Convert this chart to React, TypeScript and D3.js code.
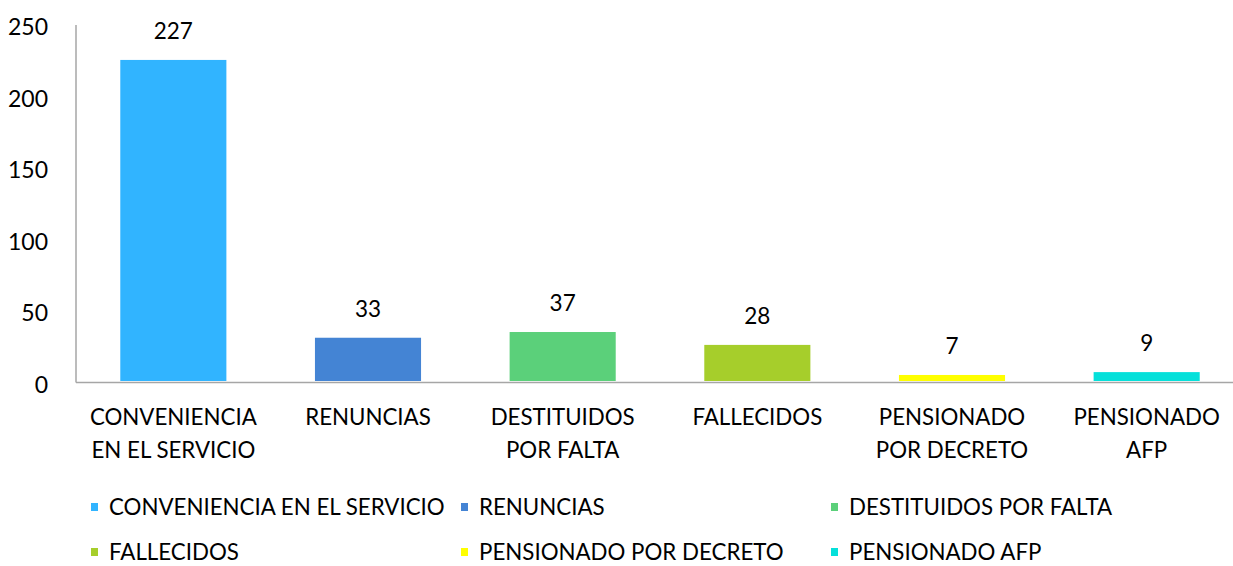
import React from "react";
import * as d3 from "d3";

const categories = [
  "CONVENIENCIA EN EL SERVICIO",
  "RENUNCIAS",
  "DESTITUIDOS POR FALTA",
  "FALLECIDOS",
  "PENSIONADO POR DECRETO",
  "PENSIONADO AFP",
];
const axisLines = [
  ["CONVENIENCIA", "EN EL SERVICIO"],
  ["RENUNCIAS"],
  ["DESTITUIDOS", "POR FALTA"],
  ["FALLECIDOS"],
  ["PENSIONADO", "POR DECRETO"],
  ["PENSIONADO", "AFP"],
];
const values = [227, 33, 37, 28, 7, 9];
const colors = ["#31B4FF", "#4484D4", "#5BD07A", "#A6CE2B", "#FFFF00", "#05E0DA"];
const yTicks = [0, 50, 100, 150, 200, 250];

const W = 1233;
const H = 566;
const FONT = "Lato, 'Liberation Sans', sans-serif";

export default function App() {
  const y = d3.scaleLinear().domain([0, 250]).range([385, 27]);
  const x = d3.scaleBand<string>().domain(categories).range([76, 1244]).padding(0);
  const bw = x.bandwidth() * 0.545;
  const baseY = 381;
  const axisY = 382.5;

  const legendCols = [91, 461, 831];
  const legendRows = [507, 552];

  return (
    <svg width={W} height={H} style={{ position: "absolute", left: 0, top: 0, background: "#fff" }} fontFamily={FONT}>
      {categories.map((c, i) => {
        const cx = (x(c) as number) + x.bandwidth() / 2;
        const top = y(values[i]);
        return (
          <g key={c}>
            <rect x={cx - bw / 2} y={top} width={bw} height={Math.max(0, baseY - top)} fill={colors[i]} />
            <text x={cx} y={top - 21} textAnchor="middle" fontSize={22.5} fill="#000">
              {values[i]}
            </text>
            {axisLines[i].map((ln, j) => (
              <text key={j} x={cx} y={425 + j * 33} textAnchor="middle" fontSize={22.3} fill="#000">
                {ln}
              </text>
            ))}
          </g>
        );
      })}
      <line x1={76} x2={76} y1={25} y2={axisY} stroke="#A6A6A6" strokeWidth={1.5} />
      <line x1={76} x2={W} y1={axisY} y2={axisY} stroke="#A6A6A6" strokeWidth={1.5} />
      {yTicks.map((t) => (
        <text key={t} x={48} y={y(t) + 8} textAnchor="end" fontSize={23} fill="#000">
          {t}
        </text>
      ))}
      {categories.map((c, i) => {
        const lx = legendCols[i % 3];
        const ly = legendRows[Math.floor(i / 3)];
        return (
          <g key={"lg" + c}>
            <rect x={lx} y={ly - 4} width={7} height={8} fill={colors[i]} />
            <text x={lx + 18} y={ly + 8} fontSize={22.3} fill="#000">
              {c}
            </text>
          </g>
        );
      })}
    </svg>
  );
}
